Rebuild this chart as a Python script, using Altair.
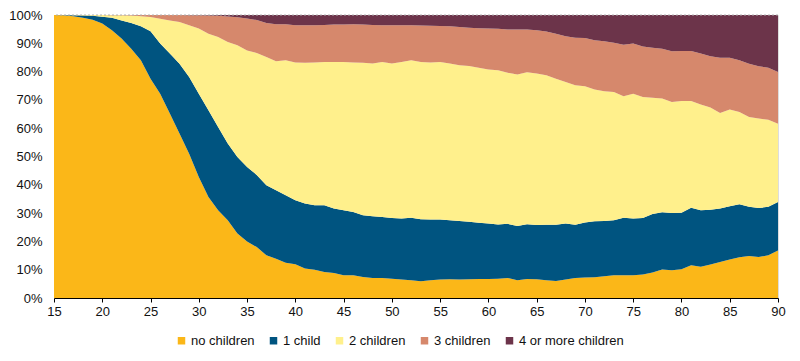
import altair as alt
import pandas as pd

ages = list(range(15, 91))

categories = ["no children", "1 child", "2 children", "3 children", "4 or more children"]
colors = ["#FBB718", "#005480", "#FFF08C", "#D6886C", "#6C344A"]

no_children = [100, 99.9, 99.6, 99.0, 98.3, 97.0, 94.6, 91.7, 88.1, 84.0,
               77.5, 72.2, 65.2, 58.1, 51.0, 42.8, 35.7, 31.0, 27.5, 22.8,
               20.0, 18.0, 15.1, 13.9, 12.5, 11.9, 10.4, 10.0, 9.2, 8.8,
               8.0, 8.0, 7.4, 7.1, 7.1, 6.8, 6.5, 6.3, 5.9, 6.3,
               6.5, 6.6, 6.5, 6.6, 6.7, 6.7, 6.8, 7.1, 6.3, 6.7,
               6.6, 6.3, 6.0, 6.5, 7.1, 7.2, 7.3, 7.7, 8.0, 8.0,
               8.0, 8.3, 9.0, 10.1, 9.8, 10.2, 11.6, 11.0, 11.8, 12.7,
               13.6, 14.4, 14.8, 14.5, 15.1, 16.8]
one_child = [0, 0.1, 0.3, 0.8, 1.4, 2.4, 4.4, 6.4, 9.1, 12.0,
             16.8, 17.7, 21.2, 24.7, 27.1, 29.4, 30.6, 29.4, 27.1, 27.0,
             26.3, 25.5, 24.7, 24.2, 23.8, 22.6, 23.0, 22.8, 23.6, 22.8,
             23.0, 22.4, 21.8, 21.8, 21.5, 21.5, 21.6, 22.1, 21.9, 21.4,
             21.2, 20.9, 20.7, 20.3, 19.9, 19.6, 19.2, 19.1, 19.1, 19.4,
             19.2, 19.6, 19.9, 19.8, 18.8, 19.5, 19.8, 19.5, 19.5, 20.4,
             20.1, 20.0, 20.7, 20.2, 20.2, 19.9, 20.3, 20.0, 19.4, 18.9,
             18.8, 18.7, 17.4, 17.3, 17.1, 17.1]
two_children = [0, 0, 0.1, 0.2, 0.3, 0.6, 0.9, 1.8, 2.6, 3.6,
                5.0, 8.8, 11.7, 14.7, 18.3, 23.0, 27.1, 31.8, 35.9, 39.5,
                41.2, 43.1, 45.4, 45.6, 47.7, 48.7, 49.7, 50.4, 50.6, 51.8,
                52.4, 52.8, 53.9, 54.0, 54.8, 54.6, 55.3, 55.6, 55.6, 55.5,
                55.7, 55.4, 55.0, 55.1, 54.8, 54.4, 54.5, 53.4, 53.6, 53.7,
                53.5, 52.8, 51.6, 50.0, 49.3, 48.1, 46.6, 45.9, 45.3, 42.9,
                44.1, 42.7, 41.1, 40.2, 39.3, 39.5, 37.7, 37.4, 36.1, 33.8,
                34.2, 32.6, 31.8, 31.6, 30.8, 27.7]
three_children = [0, 0, 0, 0, 0, 0, 0.1, 0.1, 0.2, 0.4,
                  0.7, 1.3, 1.9, 2.5, 3.5, 4.7, 6.4, 7.5, 9.0, 9.9,
                  11.3, 11.6, 12.0, 13.0, 12.7, 13.2, 13.3, 13.2, 13.1, 13.2,
                  13.2, 13.5, 13.5, 13.6, 13.0, 13.5, 13.0, 12.4, 12.9, 13.0,
                  12.7, 13.1, 13.6, 13.5, 13.9, 14.5, 14.6, 15.3, 15.9, 15.1,
                  15.3, 15.5, 15.9, 16.2, 16.8, 17.1, 17.4, 17.6, 17.4, 18.2,
                  17.7, 17.9, 17.6, 17.6, 17.9, 17.7, 17.7, 18.0, 18.1, 19.5,
                  18.3, 18.3, 18.8, 18.5, 18.4, 18.3]
four_plus = [0, 0, 0, 0, 0, 0, 0, 0, 0, 0,
             0, 0, 0, 0, 0.1, 0.1, 0.2, 0.3, 0.5, 0.8,
             1.2, 1.8, 2.8, 3.3, 3.3, 3.6, 3.6, 3.6, 3.5, 3.4,
             3.4, 3.3, 3.4, 3.5, 3.6, 3.6, 3.6, 3.6, 3.7, 3.8,
             3.9, 4.0, 4.2, 4.5, 4.7, 4.8, 4.9, 5.1, 5.1, 5.1,
             5.4, 5.8, 6.6, 7.5, 8.0, 8.1, 8.9, 9.3, 9.8, 10.5,
             10.1, 11.1, 11.6, 11.9, 12.8, 12.7, 12.7, 13.6, 14.6, 15.1,
             15.1, 16.0, 17.2, 18.1, 18.6, 20.1]

x_ticks = list(range(15, 91, 5))
y_ticks = [i / 10 for i in range(0, 11)]

series = [no_children, one_child, two_children, three_children, four_plus]
rows = []
for idx, (cat, vals) in enumerate(zip(categories, series)):
    for a, v in zip(ages, vals):
        rows.append({"age": a, "share": v, "category": cat, "idx": idx})
df = pd.DataFrame(rows)

FONT = "Liberation Sans"

y_axis = alt.Axis(values=y_ticks, format=".0%", title=None, grid=False,
                  domain=False, ticks=False, tickSize=0, labelPadding=12,
                  labelFont=FONT, labelFontSize=13, labelColor="#111111",
                  labelOverlap=False)
y_scale = alt.Scale(domain=[0, 1], nice=False)

area = alt.Chart(df).mark_area(interpolate="linear", opacity=1).encode(
    x=alt.X("age:Q",
            scale=alt.Scale(domain=[15, 90], nice=False, zero=False),
            axis=alt.Axis(values=x_ticks, title=None, grid=False,
                          domainColor="#000000", domainWidth=1,
                          tickColor="#000000", tickSize=4, labelPadding=3,
                          labelFont=FONT, labelFontSize=13, labelColor="#111111",
                          labelFlush=False, labelOverlap=False)),
    y=alt.Y("share:Q", stack="normalize", scale=y_scale, axis=y_axis),
    color=alt.Color("category:N",
                    scale=alt.Scale(domain=categories, range=colors),
                    legend=alt.Legend(title=None, orient="none", direction="horizontal",
                                      legendX=121, legendY=319,
                                      symbolType="square", symbolSize=56,
                                      symbolStrokeWidth=0, symbolOpacity=1,
                                      labelFont=FONT, labelFontSize=13,
                                      labelColor="#111111", labelOffset=3,
                                      columnPadding=12)),
    order=alt.Order("idx:Q", sort="ascending"),
)

top_line = alt.Chart(pd.DataFrame({"v": [1]})).mark_rule(
    color="#b0b0b0", strokeDash=[2, 2], strokeWidth=1
).encode(y=alt.Y("v:Q", scale=y_scale, axis=y_axis))

chart = alt.layer(area, top_line).properties(
    width=724, height=283,
    autosize=alt.AutoSizeParams(type="none"),
    padding={"left": 46, "top": 7, "right": 14, "bottom": 50},
).configure_view(stroke=None).configure(background="white")

chart.save("out.html", embed_options={"renderer": "svg", "actions": False})
